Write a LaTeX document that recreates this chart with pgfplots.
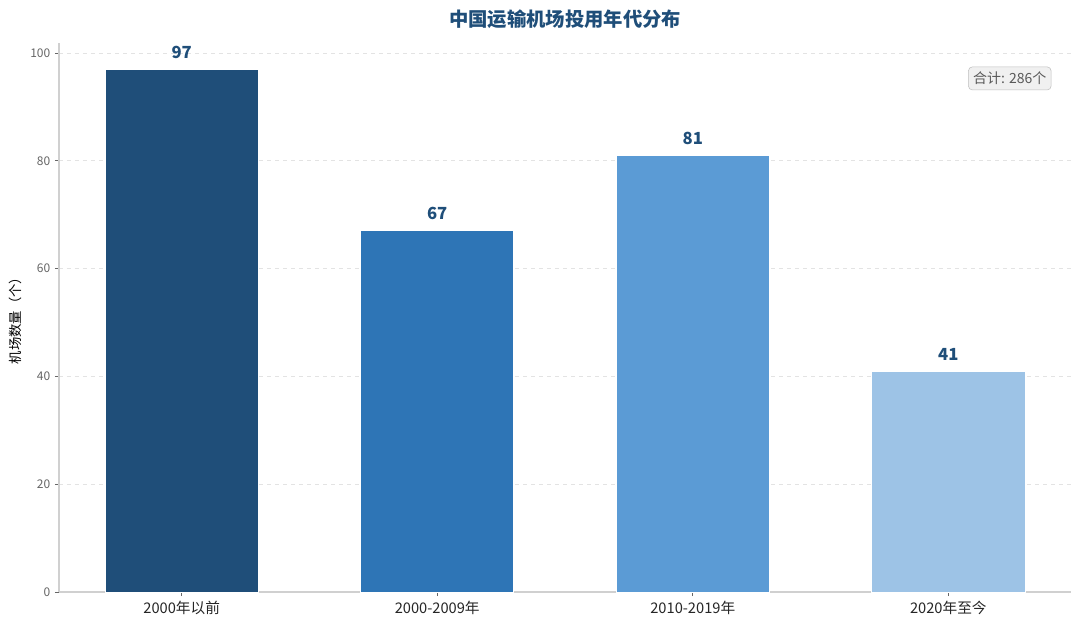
\documentclass[border=0pt]{standalone}
\usepackage{fontspec}
\setmainfont{Noto Sans CJK SC}
\usepackage{pgfplots}
\pgfplotsset{compat=1.18}
\definecolor{c1}{HTML}{1F4E79}
\definecolor{c2}{HTML}{2E75B6}
\definecolor{c3}{HTML}{5B9BD5}
\definecolor{c4}{HTML}{9DC3E6}
\definecolor{spine}{HTML}{D0D0D0}
\definecolor{gridc}{HTML}{E3E3E3}
\begin{document}
\begin{tikzpicture}
\path[fill=white] (-44.25pt,-25.5pt) rectangle (765.75pt,444pt);
\begin{axis}[
  at={(0,0)}, anchor=south west,
  scale only axis, width=759pt, height=411.75pt,
  xmin=-0.48, xmax=3.48, ymin=0, ymax=101.85,
  ybar, bar width=0.6,
  axis x line*=bottom, axis y line*=left,
  axis line style={spine, line width=0.8pt},
  xtick={0,1,2,3},
  xticklabels={2000年以前,2000-2009年,2010-2019年,2020年至今},
  ytick={0,20,40,60,80,100},
  /pgf/number format/assume math mode=true,
  xticklabel style={font=\fontsize{11}{13}\selectfont, text=black!85},
  yticklabel style={font=\fontsize{9}{10}\selectfont, text=black!60},
  tick style={black!60, line width=0.6pt},
  major tick length=3pt,
  tick align=outside,
  ymajorgrids, grid style={gridc, dashed, line width=0.5pt},
  ylabel={机场数量（个）},
  ylabel style={font=\fontsize{11}{12}\selectfont, text=black!80},
  every axis y label/.style={at={(ticklabel* cs:0.5)}, rotate=90, anchor=south, yshift=24.5pt},
  title={中国运输机场投用年代分布},
  title style={font=\bfseries\fontsize{14.5}{16}\selectfont, text=c1, yshift=1.5pt},
  nodes near coords,
  every node near coord/.append style={font=\bfseries\fontsize{12.5}{14}\selectfont, text=c1, yshift=4.5pt},
  clip=false,
]
\addplot[bar shift=0pt, fill=c1, draw=white, line width=0.6pt] coordinates {(0,97)};
\addplot[bar shift=0pt, fill=c2, draw=white, line width=0.6pt] coordinates {(1,67)};
\addplot[bar shift=0pt, fill=c3, draw=white, line width=0.6pt] coordinates {(2,81)};
\addplot[bar shift=0pt, fill=c4, draw=white, line width=0.6pt] coordinates {(3,41)};
\node[anchor=center, draw=black!25, fill=black!6, rounded corners=3pt, inner xsep=3.5pt, inner ysep=3.8pt, text=black!65, font=\fontsize{10.5}{12}\selectfont] at (rel axis cs:0.9395,0.9355) {合计: 286个};
\end{axis}
\end{tikzpicture}
\end{document}
